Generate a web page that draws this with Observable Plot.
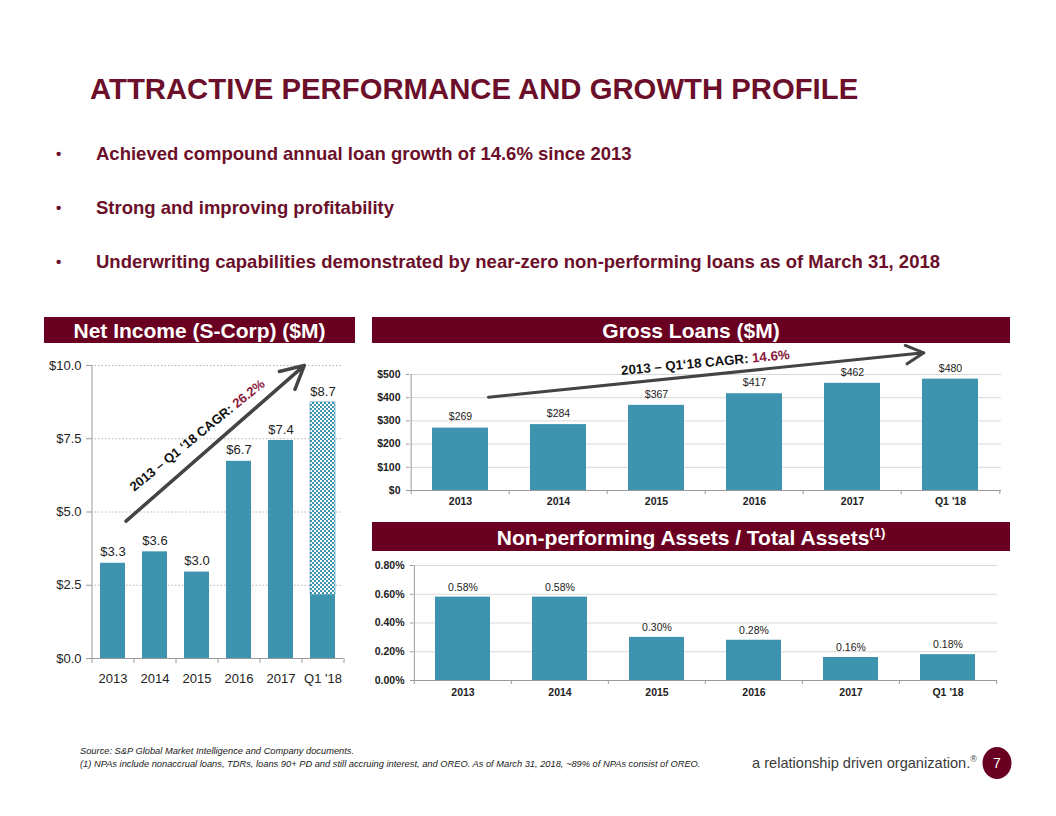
<!DOCTYPE html>
<html><head><meta charset="utf-8">
<script src="https://cdn.jsdelivr.net/npm/d3@7"></script>
<script src="https://cdn.jsdelivr.net/npm/@observablehq/plot@0.6"></script>
<style>
html,body{margin:0;padding:0;background:#fff;}
#page{position:relative;width:1056px;height:816px;overflow:hidden;font-family:"Liberation Sans",Arial,sans-serif;}
#bg{position:absolute;left:0;top:0;}
.chart{position:absolute;}
.chart svg{display:block;overflow:visible;}
</style></head><body><div id="page">
<svg id="bg" width="1056" height="816" font-family="'Liberation Sans', Arial, sans-serif">
  <text x="90" y="99" font-size="29.3" font-weight="bold" fill="#6b0f2a">ATTRACTIVE PERFORMANCE AND GROWTH PROFILE</text>
  <g font-size="18.5" font-weight="bold" fill="#6b0f2a">
    <text x="56" y="159" font-size="15">•</text>
    <text x="96" y="160">Achieved compound annual loan growth of 14.6% since 2013</text>
    <text x="56" y="213" font-size="15">•</text>
    <text x="96" y="214">Strong and improving profitability</text>
    <text x="56" y="267" font-size="15">•</text>
    <text x="96" y="268">Underwriting capabilities demonstrated by near-zero non-performing loans as of March 31, 2018</text>
  </g>
  <rect x="44" y="317" width="311" height="26" fill="#6a0021"/>
  <text x="199.5" y="337.5" text-anchor="middle" font-size="21" font-weight="bold" fill="#fff">Net Income (S-Corp) ($M)</text>
  <rect x="372" y="317" width="638" height="26" fill="#6a0021"/>
  <text x="691" y="337.5" text-anchor="middle" font-size="21" font-weight="bold" fill="#fff">Gross Loans ($M)</text>
  <rect x="372" y="522" width="638" height="29" fill="#6a0021"/>
  <text x="691" y="544.5" text-anchor="middle" font-size="21" font-weight="bold" fill="#fff">Non-performing Assets / Total Assets<tspan font-size="13" dy="-8">(1)</tspan></text>
  <g font-size="9.3" font-style="italic" fill="#1a1a1a">
    <text x="80" y="754">Source: S&amp;P Global Market Intelligence and Company documents.</text>
    <text x="80" y="767">(1) NPAs include nonaccrual loans, TDRs, loans 90+ PD and still accruing interest, and OREO. As of March 31, 2018, ~89% of NPAs consist of OREO.</text>
  </g>
  <text x="752" y="768" font-size="14.6" fill="#3a3a3a">a relationship driven organization.<tspan font-size="9" dy="-6">®</tspan></text>
  <ellipse cx="997" cy="763" rx="14.5" ry="16" fill="#6a0021"/>
  <text x="997" y="768" text-anchor="middle" font-size="14" fill="#fff">7</text>
</svg>
<div id="ni" class="chart" style="left:40px;top:350px;width:310px;height:345px"></div>
<div id="gl" class="chart" style="left:372px;top:340px;width:640px;height:170px"></div>
<div id="npa" class="chart" style="left:372px;top:556px;width:640px;height:150px"></div>
</div>
<script>
// ---------- data ----------
const years = ["2013", "2014", "2015", "2016", "2017", "Q1 '18"];
const netIncome = [3.25, 3.64, 2.95, 6.73, 7.44, 8.74];       // $M (Q1 '18 annualized)
const netIncomeQ1Actual = 2.17;                               // $M, actual Q1 '18 portion
const netIncomeLabels = ["$3.3", "$3.6", "$3.0", "$6.7", "$7.4", "$8.7"];
const netIncomeTicks = [0, 2.5, 5, 7.5, 10];
const grossLoans = [269, 284, 367, 417, 462, 480];            // $M
const grossLoanTicks = [0, 100, 200, 300, 400, 500];
const npaRatio = [0.58, 0.58, 0.30, 0.28, 0.16, 0.18];        // %
const npaTicks = [0, 0.2, 0.4, 0.6, 0.8];
const niCagr = ["2013 – Q1 ‘18 CAGR:\u00a0", "26.2%"];
const glCagr = ["2013 – Q1‘18 CAGR:\u00a0", "14.6%"];
// annotation arrows in data units
const niArrow = [{x1: "2013", y1: 4.30, x2: "Q1 '18", y2: 10.56}];
const glArrow = [{x1: "2013", y1: 390, x2: "Q1 '18", y2: 605}];

// ---------- style ----------
const teal = "#3e94af";
const maroon = "#8a1a3c";
const axisGray = "#9a9a9a";
const font = "'Liberation Sans', Arial, sans-serif";

const niData = years.map((year, i) => ({year, value: netIncome[i], label: netIncomeLabels[i]}));
const niSolid = years.map((year, i) => ({year, y1: 0, y2: i === years.length - 1 ? netIncomeQ1Actual : netIncome[i]}));
const niPattern = [{year: years[years.length - 1], y1: netIncomeQ1Actual, y2: netIncome[netIncome.length - 1]}];
const glData = years.map((year, i) => ({year, value: grossLoans[i], label: "$" + grossLoans[i]}));
const npaData = years.map((year, i) => ({year, value: npaRatio[i], label: npaRatio[i].toFixed(2) + "%"}));

function checkerDefs() {
  const defs = d3.create("svg:defs");
  const p = defs.append("pattern").attr("id", "checker").attr("width", 4).attr("height", 4)
    .attr("patternUnits", "userSpaceOnUse");
  p.append("rect").attr("width", 4).attr("height", 4).attr("fill", "#fff");
  p.append("rect").attr("width", 2).attr("height", 2).attr("fill", teal);
  p.append("rect").attr("x", 2).attr("y", 2).attr("width", 2).attr("height", 2).attr("fill", teal);
  return defs.node();
}

function boundaryTicks(step, len) {
  return [
    Plot.ruleX(years, {x: d => d, dx: -step / 2, y1: 0, y2: 0, insetTop: 0, insetBottom: -len, stroke: axisGray}),
    Plot.ruleX([years[years.length - 1]], {x: d => d, dx: step / 2, y1: 0, y2: 0, insetTop: 0, insetBottom: -len, stroke: axisGray})
  ];
}

// ---------- Net income ----------
{
  const W = 310, H = 345, ml = 51, mr = 7;
  const step = (W - ml - mr) / years.length;
  const chart = Plot.plot({
    width: W, height: H, marginLeft: ml, marginRight: mr, marginTop: 15, marginBottom: 37,
    style: {fontFamily: font, background: "transparent", color: "#222", overflow: "visible"},
    x: {domain: years, paddingInner: 0.41, paddingOuter: 0.205, label: null},
    y: {domain: [0, 10], label: null},
    marks: [
      checkerDefs,
      Plot.gridY(netIncomeTicks.filter(d => d > 0), {stroke: "#b5b5b5", strokeOpacity: 1, strokeDasharray: "1.5,2"}),
      Plot.barY(niSolid, {x: "year", y1: "y1", y2: "y2", fill: teal}),
      Plot.barY(niPattern, {x: "year", y1: "y1", y2: "y2", fill: "url(#checker)", stroke: teal, strokeWidth: 0.6}),
      Plot.ruleY([0], {stroke: axisGray}),
      Plot.ruleX([years[0]], {x: d => d, dx: -step / 2, y1: 0, y2: 10, stroke: axisGray}),
      ...boundaryTicks(step, 5),
      Plot.axisY({ticks: netIncomeTicks, tickFormat: d => "$" + d.toFixed(1), tickSize: 5, tickPadding: 5, stroke: axisGray, fontSize: 13, label: null}),
      Plot.axisX({tickSize: 0, tickPadding: 15, fontSize: 13, label: null}),
      Plot.text(niData, {x: "year", y: "value", text: "label", dy: -11, fontSize: 13, fill: "#222"}),
      Plot.arrow(niArrow, {x1: "x1", y1: "y1", x2: "x2", y2: "y2", stroke: "#444", strokeWidth: 3.5, headLength: 11, headAngle: 55, insetStart: 17.3, insetEnd: 24.8}),
      Plot.text([niCagr], {x: () => "2016", y: () => 8.53, dx: -2, text: d => d[0], rotate: -39, textAnchor: "end", lineAnchor: "bottom", fontSize: 13, fontWeight: "bold", fill: "#111"}),
      Plot.text([niCagr], {x: () => "2016", y: () => 8.53, dx: -2, text: d => d[1], rotate: -39, textAnchor: "start", lineAnchor: "bottom", fontSize: 13, fontWeight: "bold", fill: maroon})
    ]
  });
  document.getElementById("ni").append(chart);
}

// ---------- Gross loans ----------
{
  const W = 640, H = 170, ml = 37, mr = 11;
  const step = (W - ml - mr) / years.length;
  const chart = Plot.plot({
    width: W, height: H, marginLeft: ml, marginRight: mr, marginTop: 34, marginBottom: 20,
    style: {fontFamily: font, background: "transparent", color: "#222", overflow: "visible"},
    x: {domain: years, paddingInner: 0.43, paddingOuter: 0.215, label: null},
    y: {domain: [0, 500], label: null},
    marks: [
      Plot.gridY(grossLoanTicks.filter(d => d > 0), {stroke: "#d9d9d9", strokeOpacity: 1}),
      Plot.barY(glData, {x: "year", y: "value", fill: teal}),
      Plot.ruleY([0], {stroke: axisGray}),
      Plot.ruleX([years[0]], {x: d => d, dx: -step / 2, y1: 0, y2: 500, stroke: axisGray}),
      ...boundaryTicks(step, 4),
      Plot.axisY({ticks: grossLoanTicks, tickFormat: d => "$" + d, tickSize: 3, tickPadding: 6, stroke: axisGray, fontSize: 10.5, fontWeight: "bold", label: null}),
      Plot.axisX({tickSize: 0, tickPadding: 7, fontSize: 10.5, fontWeight: "bold", label: null}),
      Plot.text(glData, {x: "year", y: "value", text: "label", dy: -11, fontSize: 10.5, fill: "#222"}),
      Plot.arrow(glArrow, {x1: "x1", y1: "y1", x2: "x2", y2: "y2", stroke: "#444", strokeWidth: 3, headLength: 10, headAngle: 55, insetStart: 28.1, insetEnd: 26.8}),
      Plot.text([glCagr], {x: () => "2016", y: () => 552, dx: -2, text: d => d[0], rotate: -5.5, textAnchor: "end", lineAnchor: "bottom", fontSize: 13.3, fontWeight: "bold", fill: "#111"}),
      Plot.text([glCagr], {x: () => "2016", y: () => 552, dx: -2, text: d => d[1], rotate: -5.5, textAnchor: "start", lineAnchor: "bottom", fontSize: 13.3, fontWeight: "bold", fill: maroon})
    ]
  });
  document.getElementById("gl").append(chart);
}

// ---------- NPA / total assets ----------
{
  const W = 640, H = 150, ml = 41, mr = 15;
  const step = (W - ml - mr) / years.length;
  const chart = Plot.plot({
    width: W, height: H, marginLeft: ml, marginRight: mr, marginTop: 9, marginBottom: 26,
    style: {fontFamily: font, background: "transparent", color: "#222", overflow: "visible"},
    x: {domain: years, paddingInner: 0.435, paddingOuter: 0.2175, label: null},
    y: {domain: [0, 0.8], label: null},
    marks: [
      Plot.gridY(npaTicks.filter(d => d > 0), {stroke: "#d9d9d9", strokeOpacity: 1}),
      Plot.barY(npaData, {x: "year", y: "value", fill: teal}),
      Plot.ruleY([0], {stroke: axisGray}),
      Plot.ruleX([years[0]], {x: d => d, dx: -step / 2, y1: 0, y2: 0.8, stroke: axisGray}),
      ...boundaryTicks(step, 4),
      Plot.axisY({ticks: npaTicks, tickFormat: d => d.toFixed(2) + "%", tickSize: 3, tickPadding: 6, stroke: axisGray, fontSize: 10.5, fontWeight: "bold", label: null}),
      Plot.axisX({tickSize: 0, tickPadding: 8, fontSize: 10.5, fontWeight: "bold", label: null}),
      Plot.text(npaData, {x: "year", y: "value", text: "label", dy: -10, fontSize: 10.5, fill: "#222"})
    ]
  });
  document.getElementById("npa").append(chart);
}
</script>
</body></html>
